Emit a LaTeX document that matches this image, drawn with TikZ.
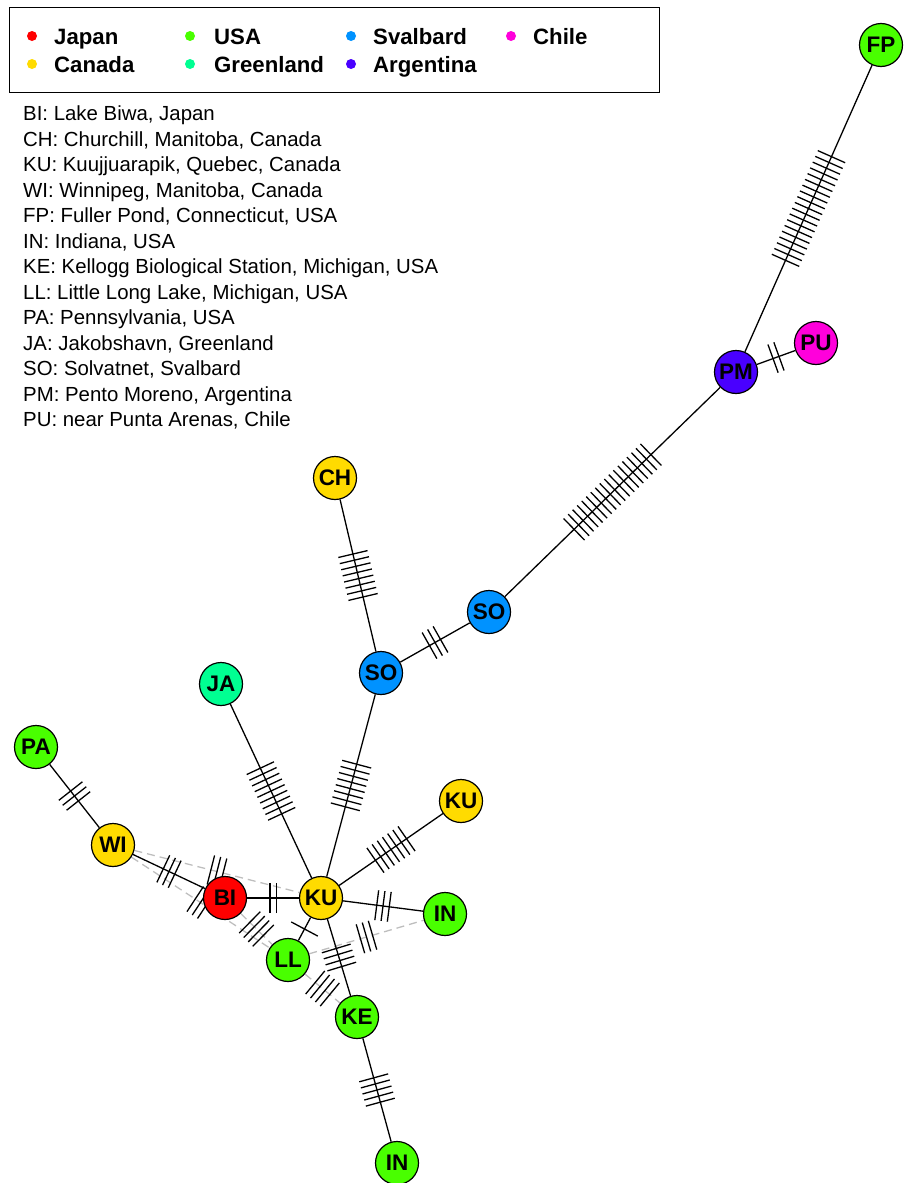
\documentclass[tikz,border=0pt]{standalone}
\usepackage{fontspec}
\setmainfont{Liberation Sans}
\usetikzlibrary{calc}
\pgfdeclarelayer{edges}
\pgfsetlayers{edges,main}
\definecolor{cJapan}{HTML}{FF0000}
\definecolor{cCanada}{HTML}{FFDB00}
\definecolor{cUSA}{HTML}{49FF00}
\definecolor{cGreenland}{HTML}{00FF92}
\definecolor{cSvalbard}{HTML}{0092FF}
\definecolor{cArgentina}{HTML}{4900FF}
\definecolor{cChile}{HTML}{FF00DB}
\definecolor{altgray}{HTML}{BEBEBE}
% ticks across the link from #1 to #2, #3 of them, centred on the midpoint
\newcommand\mutticks[3]{%
  \foreach \ii in {1,...,#3}{%
    \pgfmathsetmacro\offs{(\ii-(#3+1)/2)*6.3}%
    \coordinate (tcm) at ($(#1)!0.5!(#2)$);%
    \coordinate (tpp) at ($(tcm)!\offs pt!(#2)$);%
    \draw[mtick] ($(tpp)!15pt!90:(#2)$) -- ($(tpp)!15pt!-90:(#2)$);%
  }}
\begin{document}
\begin{tikzpicture}[x=1pt,y=-1pt,
  hap/.style={circle,draw=black,line width=1.2pt,minimum size=43pt,inner sep=0pt,
    font=\fontsize{22.5}{24}\selectfont\bfseries},
  link/.style={draw=black,line width=1.3pt},
  alt/.style={draw=altgray,line width=1.3pt,dash pattern=on 8pt off 5pt},
  mtick/.style={draw=black,line width=1.3pt},
  ldot/.style={circle,fill=#1,minimum size=10pt,inner sep=0pt},
  ltext/.style={anchor=base west,inner sep=0pt,font=\fontsize{22.2}{24}\selectfont\bfseries}]
\useasboundingbox (0,0) rectangle (906,1183);

% legend
\draw[line width=0.9pt] (9,7) rectangle (659,92);
\node[ldot=cJapan] (d1) at (32,36) {};
\node[ltext] (t1) at (54,44) {Japan};
\node[ldot=cCanada] (d2) at (32,64) {};
\node[ltext] (t2) at (54,72) {Canada};
\node[ldot=cUSA] (d3) at (190,36) {};
\node[ltext] (t3) at (214,44) {USA};
\node[ldot=cGreenland] (d4) at (190,64) {};
\node[ltext] (t4) at (214,72) {Greenland};
\node[ldot=cSvalbard] (d5) at (351,36) {};
\node[ltext] (t5) at (373,44) {Svalbard};
\node[ldot=cArgentina] (d6) at (351,64) {};
\node[ltext] (t6) at (373,72) {Argentina};
\node[ldot=cChile] (d7) at (511,36) {};
\node[ltext] (t7) at (533,44) {Chile};

% site list
\node[anchor=north west,align=left,inner sep=0pt,font=\fontsize{20.4}{25.5}\selectfont] (sites) at (23,106)
{BI: Lake Biwa, Japan\\
CH: Churchill, Manitoba, Canada\\
KU: Kuujjuarapik, Quebec, Canada\\
WI: Winnipeg, Manitoba, Canada\\
FP: Fuller Pond, Connecticut, USA\\
IN: Indiana, USA\\
KE: Kellogg Biological Station, Michigan, USA\\
LL: Little Long Lake, Michigan, USA\\
PA: Pennsylvania, USA\\
JA: Jakobshavn, Greenland\\
SO: Solvatnet, Svalbard\\
PM: Pento Moreno, Argentina\\
PU: near Punta Arenas, Chile};

% haplotypes
\node[hap,fill=cUSA] (FP) at (881,45) {FP};
\node[hap,fill=cChile] (PU) at (816,343) {PU};
\node[hap,fill=cArgentina] (PM) at (736,372) {PM};
\node[hap,fill=cSvalbard] (SOb) at (489,612) {SO};
\node[hap,fill=cSvalbard] (SOa) at (381,673) {SO};
\node[hap,fill=cCanada] (CH) at (335,478) {CH};
\node[hap,fill=cGreenland] (JA) at (221,684) {JA};
\node[hap,fill=cUSA] (PA) at (36,747) {PA};
\node[hap,fill=cCanada] (KUb) at (461,801) {KU};
\node[hap,fill=cCanada] (WI) at (113,845) {WI};
\node[hap,fill=cJapan] (BI) at (225,898) {BI};
\node[hap,fill=cCanada] (KU) at (321,898) {KU};
\node[hap,fill=cUSA] (INa) at (445,914) {IN};
\node[hap,fill=cUSA] (LL) at (288,960) {LL};
\node[hap,fill=cUSA] (KE) at (357,1017) {KE};
\node[hap,fill=cUSA] (INb) at (397,1163) {IN};

\begin{pgfonlayer}{edges}
  % alternative links
  \draw[alt] (WI) -- (KU);
  \draw[alt] (WI) -- (LL);
  \draw[alt] (BI) -- (LL);
  \draw[alt] (LL) -- (INa);
  \draw[alt] (LL) -- (KE);
  \mutticks{WI}{KU}{3}
  \mutticks{WI}{LL}{3}
  \mutticks{BI}{LL}{4}
  \mutticks{LL}{INa}{3}
  \mutticks{LL}{KE}{4}
  % links
  \draw[link] (FP) -- (PM);   \mutticks{FP}{PM}{19}
  \draw[link] (PM) -- (PU);   \mutticks{PM}{PU}{2}
  \draw[link] (PM) -- (SOb);  \mutticks{PM}{SOb}{18}
  \draw[link] (SOb) -- (SOa); \mutticks{SOb}{SOa}{3}
  \draw[link] (SOa) -- (CH);  \mutticks{SOa}{CH}{8}
  \draw[link] (SOa) -- (KU);  \mutticks{SOa}{KU}{8}
  \draw[link] (JA) -- (KU);   \mutticks{JA}{KU}{9}
  \draw[link] (KU) -- (KUb);  \mutticks{KU}{KUb}{7}
  \draw[link] (KU) -- (INa);  \mutticks{KU}{INa}{3}
  \draw[link] (KU) -- (BI);   \mutticks{KU}{BI}{2}
  \draw[link] (KU) -- (LL);   \mutticks{KU}{LL}{1}
  \draw[link] (KU) -- (KE);   \mutticks{KU}{KE}{4}
  \draw[link] (KE) -- (INb);  \mutticks{KE}{INb}{5}
  \draw[link] (WI) -- (BI);   \mutticks{WI}{BI}{3}
  \draw[link] (PA) -- (WI);   \mutticks{PA}{WI}{3}
\end{pgfonlayer}
\end{tikzpicture}
\end{document}
